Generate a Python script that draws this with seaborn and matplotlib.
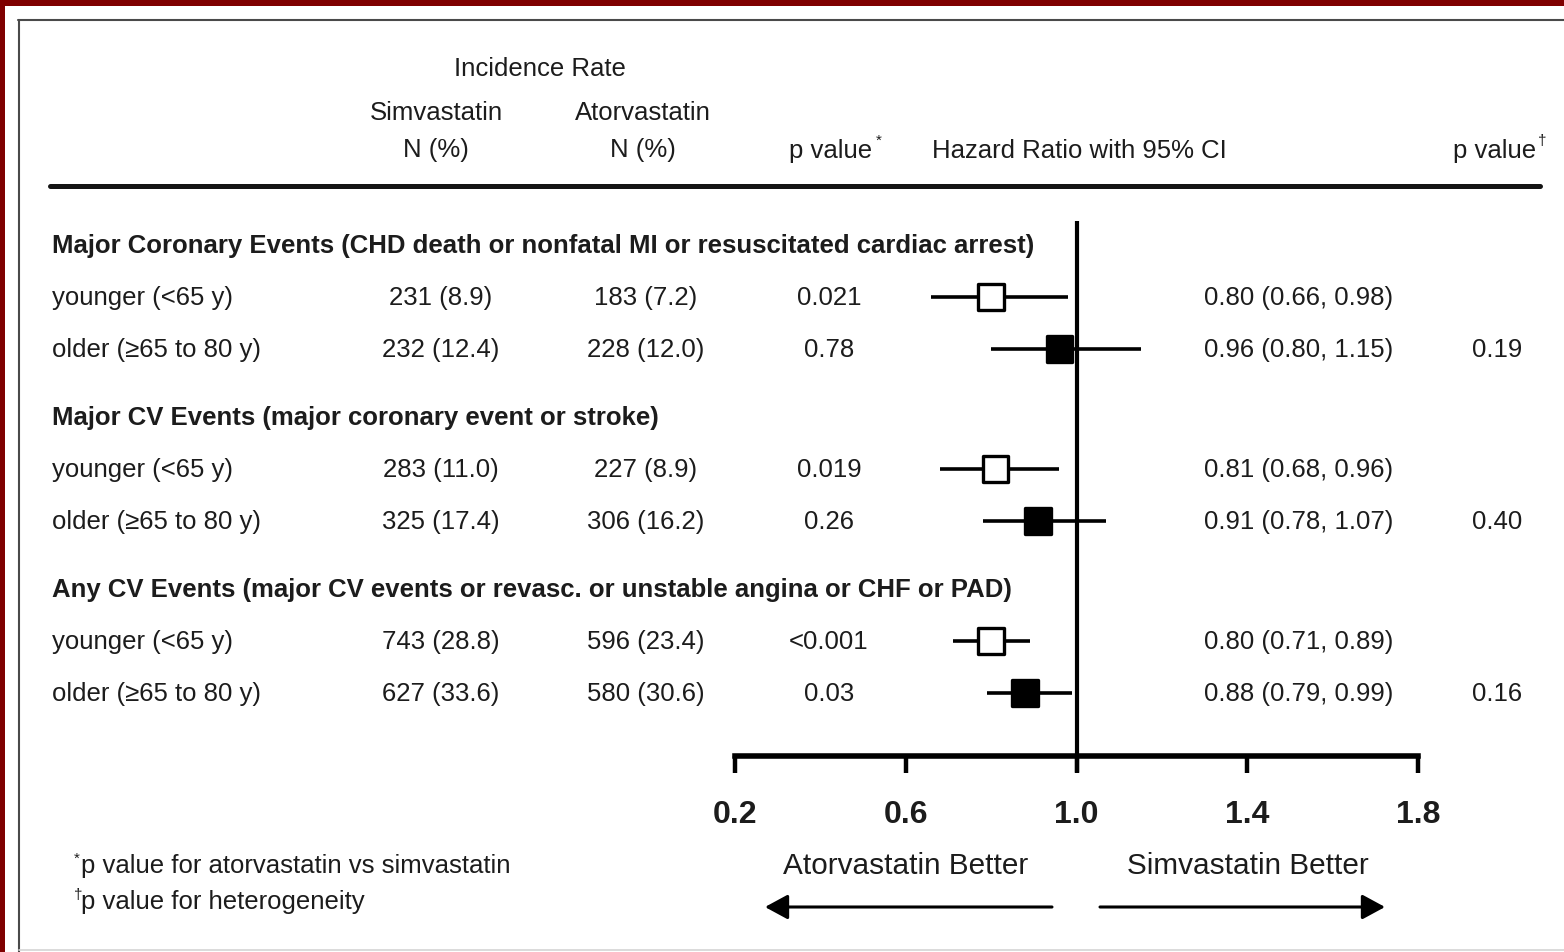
import matplotlib
matplotlib.use("Agg")
import matplotlib.pyplot as plt
from matplotlib.patches import Rectangle, FancyArrowPatch
from matplotlib.lines import Line2D
import numpy as np
import pandas as pd
import seaborn as sns

# ---- data -------------------------------------------------------------
endpoints = [
    "Major Coronary Events (CHD death or nonfatal MI or resuscitated cardiac arrest)",
    "Major CV Events (major coronary event or stroke)",
    "Any CV Events (major CV events or revasc. or unstable angina or CHF or PAD)",
]
age_groups = ["younger (<65 y)", "older (\u226565 to 80 y)"]

simva_n = [231, 232, 283, 325, 743, 627]
simva_pct = [8.9, 12.4, 11.0, 17.4, 28.8, 33.6]
atorva_n = [183, 228, 227, 306, 596, 580]
atorva_pct = [7.2, 12.0, 8.9, 16.2, 23.4, 30.6]
p_treatment = ["0.021", "0.78", "0.019", "0.26", "<0.001", "0.03"]
hazard_ratio = [0.80, 0.96, 0.81, 0.91, 0.80, 0.88]
ci_lower = [0.66, 0.80, 0.68, 0.78, 0.71, 0.79]
ci_upper = [0.98, 1.15, 0.96, 1.07, 0.89, 0.99]
p_heterogeneity = ["0.19", "0.40", "0.16"]
x_ticks = [0.2, 0.6, 1.0, 1.4, 1.8]

# ---- canvas -----------------------------------------------------------
W, H = 1564, 953
sns.set_theme(style="white")
plt.rcParams["font.family"] = ["Liberation Sans", "DejaVu Sans"]
INK = "#1c1c1c"
BODY = 18.5

fig = plt.figure(figsize=(W / 100, H / 100), dpi=100, facecolor="#7f0000")


def fx(px):
    return px / W


def fy(py):
    return 1 - py / H


# white slide panel with its thin grey frame
fig.add_artist(Rectangle((fx(5), 0), 1, fy(7), transform=fig.transFigure,
                         facecolor="white", edgecolor="none", zorder=0))
fig.add_artist(Line2D([fx(18), 1], [fy(21), fy(21)], transform=fig.transFigure,
                      color="#4a4a4a", lw=1.5))
fig.add_artist(Line2D([fx(18.5), fx(18.5)], [fy(21), 0], transform=fig.transFigure,
                      color="#4a4a4a", lw=1.5))
fig.add_artist(Line2D([fx(19), 1], [fy(951), fy(951)], transform=fig.transFigure,
                      color="#d4d4d4", lw=1.2))


def txt(px, py, s, size=BODY, ha="left", va="center", weight="normal"):
    fig.text(fx(px), fy(py), s, fontsize=size, ha=ha, va=va,
             fontweight=weight, color=INK)


# ---- row layout -------------------------------------------------------
row_step, group_step = 52, 2 * 52 + 68
header_y = [246 + g * group_step for g in range(len(endpoints))]
row_y = [header_y[g] + row_step * (k + 1)
         for g in range(len(endpoints)) for k in range(len(age_groups))]

df = pd.DataFrame({
    "hr": hazard_ratio,
    "lo": ci_lower,
    "hi": ci_upper,
    "y": row_y,
    "age": [a for _ in endpoints for a in ["younger", "older"]],
})

# ---- forest panel -----------------------------------------------------
ax = fig.add_axes([fx(735), fy(757), fx(1418) - fx(735), fy(220) - fy(757)])
ax.set_facecolor("none")
ax.set_xlim(x_ticks[0], x_ticks[-1])
ax.set_ylim(757, 220)

ax.hlines(df["y"], df["lo"], df["hi"], color="black", lw=2.6, zorder=2)
ax.vlines(1.0, 222, 773, color="black", lw=3.0, zorder=1, clip_on=False)
sns.scatterplot(data=df, x="hr", y="y", hue="age",
                palette={"younger": "white", "older": "black"},
                marker="s", s=340, edgecolor="black", linewidth=2.4,
                legend=False, zorder=3, ax=ax)

for side in ["left", "right", "top"]:
    ax.spines[side].set_visible(False)
ax.spines["bottom"].set_linewidth(4.0)
ax.spines["bottom"].set_color("black")
ax.set_xticks(x_ticks)
ax.set_xticklabels([f"{t:.1f}" for t in x_ticks])
ax.tick_params(axis="x", direction="out", length=12, width=3.2, color="black",
               labelsize=23, pad=19, labelcolor=INK, bottom=True)
for lab in ax.get_xticklabels():
    lab.set_fontweight("bold")
ax.set_yticks([])
ax.set_xlabel("")
ax.set_ylabel("")

# ---- column headers ---------------------------------------------------
txt(540, 69, "Incidence Rate", ha="center")
txt(436, 113, "Simvastatin", ha="center")
txt(436, 150, "N (%)", ha="center")
txt(643, 113, "Atorvastatin", ha="center")
txt(643, 150, "N (%)", ha="center")
txt(789, 151, "p value")
txt(876, 141, "*", size=11)
txt(932, 151, "Hazard Ratio with 95% CI")
txt(1453, 151, "p value")
txt(1538, 141, "\u2020", size=11)
fig.add_artist(Line2D([fx(50), fx(1540)], [fy(187), fy(187)],
                      transform=fig.transFigure, color="#141414", lw=3.6))

# ---- table body -------------------------------------------------------
for g, name in enumerate(endpoints):
    txt(52, header_y[g], name, weight="bold")
    for k, label in enumerate(age_groups):
        i = g * len(age_groups) + k
        y = row_y[i]
        txt(52, y, label)
        txt(441, y, f"{simva_n[i]} ({simva_pct[i]:.1f})", ha="center")
        txt(646, y, f"{atorva_n[i]} ({atorva_pct[i]:.1f})", ha="center")
        txt(829, y, p_treatment[i], ha="center")
        txt(1299, y, f"{hazard_ratio[i]:.2f} ({ci_lower[i]:.2f}, {ci_upper[i]:.2f})",
            ha="center")
    txt(1497, row_y[g * len(age_groups) + 1], p_heterogeneity[g], ha="center")

# ---- direction labels -------------------------------------------------
txt(906, 866, "Atorvastatin Better", size=21.4, ha="center")
txt(1248, 866, "Simvastatin Better", size=21.4, ha="center")
for start, end in [(1052, 765), (1100, 1385)]:
    fig.add_artist(FancyArrowPatch((fx(start), fy(908)), (fx(end), fy(908)),
                                   transform=fig.transFigure,
                                   arrowstyle="-|>,head_length=0.7,head_width=0.38",
                                   mutation_scale=20, lw=2.2, color="black",
                                   shrinkA=0, shrinkB=0))

# ---- footnotes --------------------------------------------------------
txt(74, 859, "*", size=11)
txt(81, 866, "p value for atorvastatin vs simvastatin")
txt(74, 895, "\u2020", size=11)
txt(81, 902, "p value for heterogeneity")

fig.savefig("out.png", dpi=100, facecolor=fig.get_facecolor())
